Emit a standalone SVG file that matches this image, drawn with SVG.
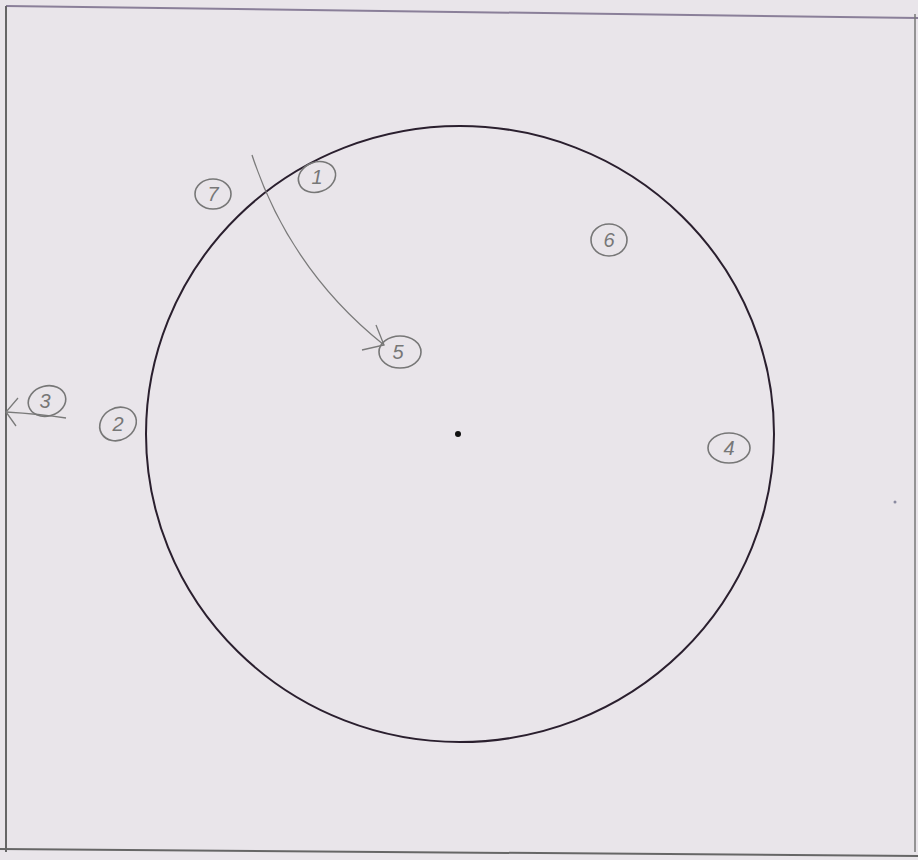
<svg xmlns="http://www.w3.org/2000/svg" width="918" height="860" viewBox="0 0 918 860">
<style>
.lbl{fill:none;stroke:#777;stroke-width:1.6}
.num{font-family:"Liberation Sans",Arial,sans-serif;font-size:20px;fill:#777;text-anchor:middle;font-style:italic}
.con{fill:none;stroke:#7a7a7a;stroke-width:1.3}
</style>
<rect width="918" height="860" fill="#e9e5ea"/>
<g id="frame" fill="none">
<path d="M6 6 L918 18" stroke="#8a7f99" stroke-width="2"/>
<path d="M6 6 L6 852" stroke="#666" stroke-width="2"/>
<path d="M0 849 L918 856" stroke="#666" stroke-width="2"/>
<path d="M915 14 L915 852" stroke="#777" stroke-width="1.5"/>
</g>
<g id="circle">
<ellipse cx="460" cy="434" rx="314" ry="308" fill="none" stroke="#2a1f2e" stroke-width="2"/>
<circle cx="458" cy="434" r="3" fill="#111"/>
</g>
<g id="connectors">
<path class="con" d="M252 155 Q290 270 384 345"/>
<path class="con" d="M362 350 L384 345 L376 325"/>
<path class="con" d="M66 418 Q40 414 6 412"/>
<path class="con" d="M18 398 L6 412 L16 426"/>
</g>
<g id="n7"><ellipse class="lbl" cx="213" cy="194" rx="18" ry="15"/><text class="num" x="213" y="201">7</text></g>
<g id="n1"><ellipse class="lbl" cx="317" cy="177" rx="19" ry="15" transform="rotate(-20 317 177)"/><text class="num" x="317" y="184">1</text></g>
<g id="n6"><ellipse class="lbl" cx="609" cy="240" rx="18" ry="16"/><text class="num" x="609" y="247">6</text></g>
<g id="n5"><ellipse class="lbl" cx="400" cy="352" rx="21" ry="16"/><text class="num" x="398" y="359">5</text></g>
<g id="n3"><ellipse class="lbl" cx="47" cy="401" rx="19" ry="15" transform="rotate(-15 47 401)"/><text class="num" x="45" y="408">3</text></g>
<g id="n2"><ellipse class="lbl" cx="118" cy="424" rx="19" ry="16" transform="rotate(-30 118 424)"/><text class="num" x="118" y="431">2</text></g>
<g id="n4"><ellipse class="lbl" cx="729" cy="448" rx="21" ry="15"/><text class="num" x="729" y="455">4</text></g>
<circle cx="895" cy="502" r="1.5" fill="#8a8aa0"/>
</svg>
